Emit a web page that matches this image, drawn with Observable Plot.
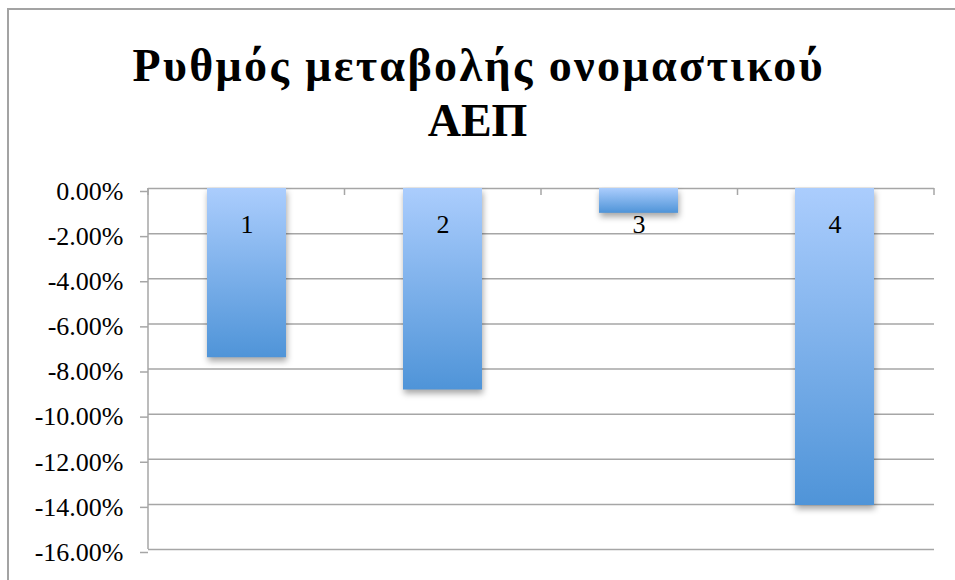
<!DOCTYPE html>
<html><head><meta charset="utf-8">
<script src="https://cdn.jsdelivr.net/npm/d3@7"></script>
<script src="https://cdn.jsdelivr.net/npm/@observablehq/plot@0.6"></script>
<style>
body{margin:0;background:#fff;}
#chart{position:relative;width:955px;height:580px;overflow:hidden;font-family:'Liberation Serif','Times New Roman','DejaVu Serif',serif;background:#fff;}
#border{position:absolute;left:7px;top:8px;width:1000px;height:600px;border-left:2px solid #a3a3a3;border-top:2px solid #a3a3a3;}
.title{position:absolute;left:0;width:955px;text-align:center;font-weight:bold;font-size:46px;line-height:1;color:#000;white-space:nowrap;}
#t1{letter-spacing:2.4px;text-indent:2.4px;}
#plot{position:absolute;left:0;top:170px;}
</style></head><body>
<div id="chart"><div id="border"></div>
<div class="title" id="t1"></div>
<div class="title" id="t2"></div>
<div id="plot"></div></div>
<script>
const titleLines = ["Ρυθμός μεταβολής ονομαστικού", "ΑΕΠ"];
const categories = ["1", "2", "3", "4"];
const values = [-0.075, -0.0893, -0.011, -0.1405];
const yTicks = [0, -0.02, -0.04, -0.06, -0.08, -0.10, -0.12, -0.14, -0.16];

document.getElementById("t1").textContent = titleLines[0];
document.getElementById("t2").textContent = titleLines[1];
document.getElementById("t1").style.top = "43px";
document.getElementById("t2").style.top = "98px";

const data = categories.map((c, i) => ({cat: c, value: values[i]}));
const fmt = d3.formatLocale({decimal: ".", thousands: ",", grouping: [3], currency: ["", ""], minus: "-"}).format(".2%");
const gridColor = "#a6a6a6";
const serif = "'Liberation Serif','Times New Roman','DejaVu Serif',serif";

const boundaryTicks = (index, scales, values, dims) => {
  const n = categories.length;
  const left = dims.marginLeft, right = dims.width - dims.marginRight;
  const top = dims.marginTop, bottom = dims.height - dims.marginBottom;
  const g = d3.create("svg:g").attr("stroke", gridColor).attr("stroke-width", 1.5);
  g.append("line").attr("x1", left).attr("x2", left).attr("y1", top).attr("y2", bottom);
  d3.range(n + 1).forEach(i => {
    const x = left + i * (right - left) / n;
    g.append("line").attr("x1", x).attr("x2", x).attr("y1", top).attr("y2", top + 7);
  });
  return g.node();
};

const plot = Plot.plot({
  width: 955,
  height: 410,
  marginTop: 18,
  marginBottom: 31,
  marginLeft: 148,
  marginRight: 21,
  x: {domain: categories, paddingInner: 0.595, paddingOuter: 0.2975, axis: null},
  y: {domain: [-0.16, 0], axis: null},
  style: {fontFamily: serif, fontSize: "26px", color: "#000", background: "transparent", overflow: "visible"},
  marks: [
    Plot.gridY(yTicks, {stroke: gridColor, strokeOpacity: 1, strokeWidth: 1.5}),
    Plot.axisY(yTicks, {tickSize: 8, tickPadding: 17, tickFormat: fmt, stroke: gridColor, strokeWidth: 1.5, fill: "#000", fontSize: 26, label: null, dy: 3}),
    boundaryTicks,
    Plot.barY(data, {x: "cat", y: "value", fill: "url(#barGrad)"}),
    Plot.text(data, {x: "cat", frameAnchor: "top", lineAnchor: "middle", dy: 36, text: "cat", fontSize: 26, fill: "#000"})
  ]
});

const svg = d3.select(plot);
svg.selectAll("text").attr("font-family", serif);
const defs = svg.insert("defs", ":first-child");
const grad = defs.append("linearGradient").attr("id", "barGrad").attr("x1", 0).attr("y1", 0).attr("x2", 0).attr("y2", 1);
grad.append("stop").attr("offset", "0%").attr("stop-color", "#abcdfd");
grad.append("stop").attr("offset", "100%").attr("stop-color", "#4f94d8");
svg.selectAll('g[aria-label="bar"]').style("filter", "drop-shadow(1px 4px 3px rgba(0,0,0,0.35))");

document.getElementById("plot").appendChild(plot);
</script>
</body></html>
